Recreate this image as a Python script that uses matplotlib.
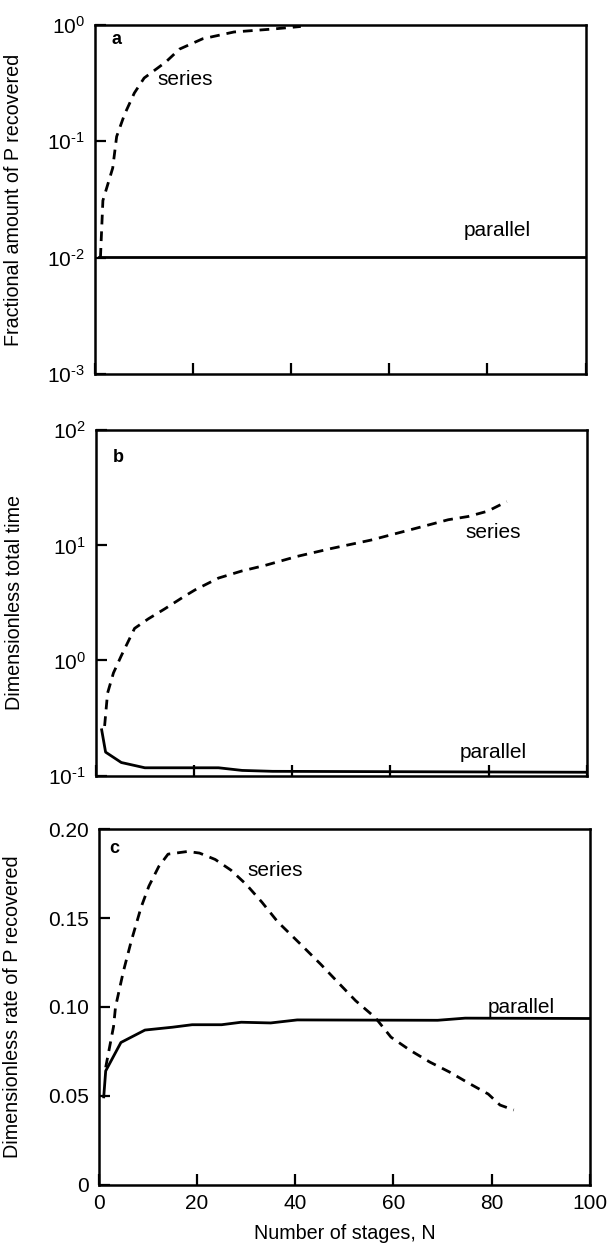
import numpy as np
import matplotlib
matplotlib.use("Agg")
import matplotlib.pyplot as plt

plt.rcParams['font.family'] = ['Liberation Sans', 'DejaVu Sans']
plt.rcParams['mathtext.fontset'] = 'custom'
plt.rcParams['mathtext.rm'] = 'Liberation Sans'
plt.rcParams['mathtext.it'] = 'Liberation Sans:italic'
plt.rcParams['mathtext.default'] = 'regular'

# panel a - fractional amount of P recovered
a_series_n = [1.2, 1.7, 3.7, 4.5, 6.1, 8.1, 10.1, 14.5, 17.3, 22, 28.4, 36, 42]
a_series_y = [0.01, 0.031, 0.059, 0.11, 0.17, 0.26, 0.35, 0.48, 0.62, 0.76, 0.87, 0.92, 0.97]
a_par_n = [1, 100]
a_par_y = [0.0101, 0.0101]

# panel b - dimensionless total time
b_series_n = [1.8, 2.4, 3.6, 5.2, 7.9, 10.7, 14, 18, 20.2, 25, 29.8, 34.5, 40.9, 48,
              56, 63.9, 71.8, 75.8, 79.8, 83.7]
b_series_y = [0.27, 0.52, 0.78, 1.1, 1.9, 2.3, 2.8, 3.6, 4.1, 5.2, 6.0, 6.7, 8.0, 9.4,
              11.1, 13.6, 16.7, 17.8, 19.8, 24]
b_par_n = [1.2, 2, 5.2, 10, 25, 29.8, 36, 100]
b_par_y = [0.25, 0.16, 0.13, 0.117, 0.117, 0.111, 0.109, 0.107]

# panel c - dimensionless rate of P recovered
c_series_n = [1.4, 3, 3.4, 5, 6.6, 8.6, 10.2, 12.2, 14.1, 18.1, 20.5, 23.7, 26.9, 30,
              33.2, 36.4, 41.2, 45.2, 48.3, 52.3, 56.3, 59.5, 63.4, 67.4, 71.4, 75.4,
              79.3, 81.7, 84.5]
c_series_y = [0.066, 0.089, 0.10, 0.12, 0.137, 0.156, 0.168, 0.179, 0.186, 0.1875, 0.1866,
              0.183, 0.177, 0.169, 0.159, 0.148, 0.135, 0.124, 0.115, 0.1035, 0.094,
              0.083, 0.0756, 0.069, 0.0634, 0.057, 0.051, 0.0448, 0.042]
c_par_n = [1, 1.4, 4.5, 9.4, 15, 19, 25, 29, 35, 40.4, 69, 74.6, 100]
c_par_y = [0.0494, 0.064, 0.080, 0.087, 0.0886, 0.090, 0.090, 0.0914, 0.091, 0.0927,
           0.0925, 0.0937, 0.0935]

fig = plt.figure(figsize=(6.10, 12.47), dpi=100)
ax_a = fig.add_axes([0.155, 0.700, 0.805, 0.280])
ax_b = fig.add_axes([0.157, 0.378, 0.805, 0.277])
ax_c = fig.add_axes([0.162, 0.050, 0.805, 0.285])

dash = (0, (3.5, 2.5))
lw = 2.0
fs = 15
fs_lab = 14.2

def pow_labels(exps):
    out = []
    for e in exps:
        if e < 0:
            out.append(r'$10^{\text{-}%d}$' % (-e))
        else:
            out.append(r'$10^{%d}$' % e)
    return out

for ax in (ax_a, ax_b, ax_c):
    for s in ax.spines.values():
        s.set_linewidth(1.8)
    ax.tick_params(direction='in', length=8, width=1.6, labelsize=fs,
                   top=False, right=False, pad=7)
    ax.tick_params(which='minor', length=0)
    ax.set_xlim(0, 100)
    ax.set_xticks([0, 20, 40, 60, 80, 100])

ax_a.plot(a_series_n, a_series_y, color='black', lw=lw, linestyle=dash)
ax_a.plot(a_par_n, a_par_y, color='black', lw=lw)
ax_a.set_yscale('log')
ax_a.set_ylim(1e-3, 1)
ax_a.set_yticks([1e-3, 1e-2, 1e-1, 1])
ax_a.set_yticklabels(pow_labels([-3, -2, -1, 0]))
ax_a.set_xticklabels([])
ax_a.set_ylabel('Fractional amount of P recovered', fontsize=fs_lab)
ax_a.yaxis.set_label_coords(-0.146, 0.5)
ax_a.text(18.5, 0.34, 'series', fontsize=fs, ha='center', va='center')
ax_a.text(82, 0.017, 'parallel', fontsize=fs, ha='center', va='center')
ax_a.text(3.5, 0.75, 'a', fontsize=13, fontweight='bold', va='center')

ax_b.plot(b_series_n, b_series_y, color='black', lw=lw, linestyle=dash)
ax_b.plot(b_par_n, b_par_y, color='black', lw=lw)
ax_b.set_yscale('log')
ax_b.set_ylim(0.1, 100)
ax_b.set_yticks([0.1, 1, 10, 100])
ax_b.set_yticklabels(pow_labels([-1, 0, 1, 2]))
ax_b.set_xticklabels([])
ax_b.set_ylabel('Dimensionless total time', fontsize=fs_lab)
ax_b.yaxis.set_label_coords(-0.146, 0.5)
ax_b.text(81, 13, 'series', fontsize=fs, ha='center', va='center')
ax_b.text(81, 0.16, 'parallel', fontsize=fs, ha='center', va='center')
ax_b.text(3.5, 58, 'b', fontsize=13, fontweight='bold', va='center')

ax_c.plot(c_series_n, c_series_y, color='black', lw=lw, linestyle=dash)
ax_c.plot(c_par_n, c_par_y, color='black', lw=lw)
ax_c.set_ylim(0, 0.20)
ax_c.set_yticks([0, 0.05, 0.10, 0.15, 0.20])
ax_c.set_yticklabels(['0', '0.05', '0.10', '0.15', '0.20'])
ax_c.set_xticklabels(['0', '20', '40', '60', '80', '100'])
ax_c.set_ylabel('Dimensionless rate of P recovered', fontsize=fs_lab)
ax_c.yaxis.set_label_coords(-0.156, 0.5)
ax_c.set_xlabel('Number of stages, N', fontsize=fs_lab, labelpad=8)
ax_c.text(36, 0.177, 'series', fontsize=fs, ha='center', va='center')
ax_c.text(86, 0.0995, 'parallel', fontsize=fs, ha='center', va='center')
ax_c.text(2.2, 0.189, 'c', fontsize=13, fontweight='bold', va='center')

fig.savefig('out.png', dpi=100)
